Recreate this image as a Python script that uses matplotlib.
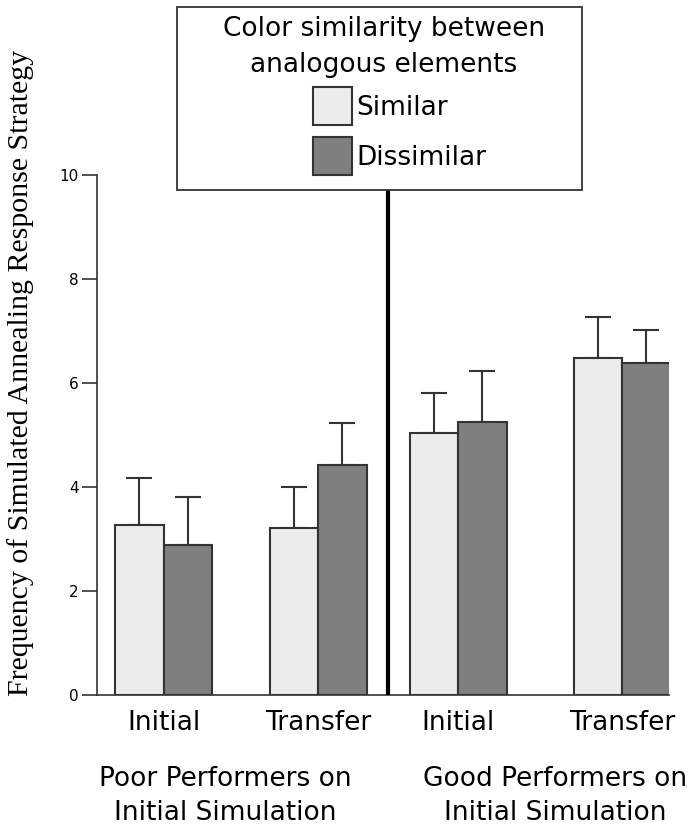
import matplotlib.pyplot as plt
from matplotlib.patches import Patch, Rectangle

# Bar heights and upper error
conditions = ["Initial", "Transfer", "Initial", "Transfer"]
similar = [3.26, 3.21, 5.04, 6.48]
similar_err = [0.91, 0.79, 0.77, 0.78]
dissimilar = [2.89, 4.42, 5.25, 6.39]
dissimilar_err = [0.91, 0.82, 0.98, 0.63]
groups = ["Poor Performers on\nInitial Simulation", "Good Performers on\nInitial Simulation"]
legend_title = "Color similarity between\nanalogous elements"
legend_labels = ["Similar", "Dissimilar"]

# layout (x positions in axis units, roughly pixels)
centers = [66.5, 221, 361, 525]
bar_w = 48.5
divider_x = 291

light = "#ececec"
dark = "#7f7f7f"
edge = "#333333"
sans = "DejaVu Sans"

fig = plt.figure(figsize=(6.94, 8.31), dpi=100)
ax = fig.add_axes([97 / 694, 1 - 695 / 831, 572 / 694, 520 / 831])

xs_light = [c - bar_w / 2 for c in centers]
xs_dark = [c + bar_w / 2 for c in centers]
ax.bar(xs_light, similar, width=bar_w, color=light, edgecolor=edge, linewidth=1.5, zorder=2)
ax.bar(xs_dark, dissimilar, width=bar_w, color=dark, edgecolor=edge, linewidth=1.5, zorder=2)
ax.errorbar(xs_light, similar, yerr=[[0] * 4, similar_err], fmt="none", ecolor=edge,
            elinewidth=1.5, capsize=9.5, capthick=1.5, zorder=1)
ax.errorbar(xs_dark, dissimilar, yerr=[[0] * 4, dissimilar_err], fmt="none", ecolor=edge,
            elinewidth=1.5, capsize=9.5, capthick=1.5, zorder=1)

ax.axvline(divider_x, ymin=0, ymax=(695 - 190) / 520, color="black", linewidth=3, zorder=3)

ax.set_xlim(0, 572)
ax.set_ylim(0, 10)
ax.set_yticks([0, 2, 4, 6, 8, 10])
ax.set_xticks(centers)
ax.set_xticklabels(conditions, fontsize=19, family=sans)
ax.tick_params(axis="x", length=0, pad=11)
ax.tick_params(axis="y", direction="out", length=11, width=1.2, color=edge,
               labelsize=11, pad=2)
for lab in ax.get_yticklabels():
    lab.set_family(sans)
for s in ["top", "right"]:
    ax.spines[s].set_visible(False)
ax.spines["left"].set_color(edge)
ax.spines["bottom"].set_color(edge)
ax.spines["left"].set_linewidth(1.2)
ax.spines["bottom"].set_linewidth(1.2)

fig.text(21 / 694, 1 - 373 / 831, "Frequency of Simulated Annealing Response Strategy",
         rotation=90, ha="center", va="center", fontsize=21.5, family="Liberation Serif")

fig.text(225 / 694, 1 - 796 / 831, groups[0], ha="center", va="center",
         fontsize=19, family=sans, linespacing=1.45)
fig.text(555 / 694, 1 - 796 / 831, groups[1], ha="center", va="center",
         fontsize=19, family=sans, linespacing=1.45)

# legend box, title and entries
fig.add_artist(Rectangle((177 / 694, 1 - 190 / 831), 405 / 694, 183 / 831,
                         transform=fig.transFigure, facecolor="white",
                         edgecolor=edge, linewidth=1.3, zorder=5))
fig.text(384 / 694, 1 - 47 / 831, legend_title, ha="center", va="center",
         multialignment="center", fontsize=19, family=sans, linespacing=1.52, zorder=6)
handles = [Patch(facecolor=light, edgecolor=edge, linewidth=1.5),
           Patch(facecolor=dark, edgecolor=edge, linewidth=1.5)]
leg = fig.legend(handles, legend_labels, loc="upper left",
                 bbox_to_anchor=(313 / 694, 1 - 87 / 831), frameon=False,
                 prop={"family": sans, "size": 19},
                 handlelength=1.48, handleheight=1.85, handletextpad=0.15,
                 labelspacing=0.45, borderpad=0, borderaxespad=0)
leg.set_zorder(6)

fig.savefig("out.png", dpi=100)
